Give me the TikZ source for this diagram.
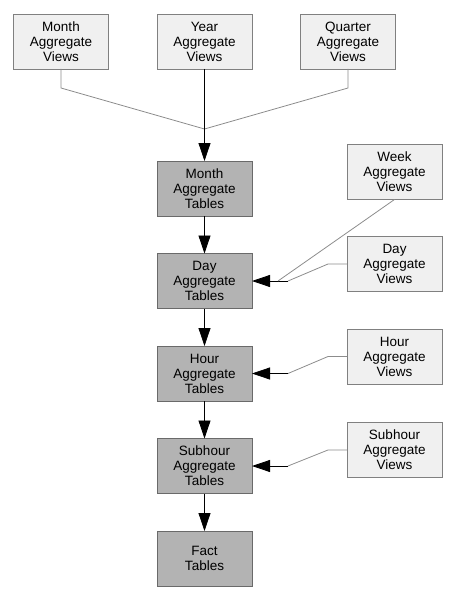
\documentclass[tikz,border=0pt]{standalone}
\usepackage{fontspec}
\setmainfont{Liberation Sans}
\usepackage{tikz}
\usetikzlibrary{arrows.meta, positioning, calc}
\definecolor{viewfill}{RGB}{240,240,240}
\definecolor{viewline}{RGB}{128,128,128}
\definecolor{tablefill}{RGB}{179,179,179}
\definecolor{tableline}{RGB}{106,106,106}
\definecolor{linkgray}{RGB}{140,140,140}

\begin{document}
\begin{tikzpicture}[x=1pt, y=1pt,
    view/.style={rectangle, draw=viewline, fill=viewfill, line width=0.9pt, outer sep=0pt,
                 minimum width=95pt, minimum height=55pt, inner sep=0pt, align=center,
                 font=\fontsize{13.5}{15}\selectfont},
    tbl/.style={view, draw=tableline, fill=tablefill},
    link/.style={linkgray, line width=0.8pt},
    flow/.style={-{Triangle[length=18pt, width=12pt, color=black]}, line width=0.8pt, black}]

    \useasboundingbox (0,0) rectangle (457,-599);

    % views at the top
    \node[view] at (204.5,-41.5) (yviews) {Year\\Aggregate\\Views};
    \node[view, left=48.5pt of yviews] (mviews) {Month\\Aggregate\\Views};
    \node[view, right=48.5pt of yviews] (qviews) {Quarter\\Aggregate\\Views};

    % chain of tables
    \node[tbl, below=92pt of yviews] (mtables) {Month\\Aggregate\\Tables};
    \node[tbl, below=37.5pt of mtables] (dtables) {Day\\Aggregate\\Tables};
    \node[tbl, below=37.5pt of dtables] (htables) {Hour\\Aggregate\\Tables};
    \node[tbl, below=37.5pt of htables] (stables) {Subhour\\Aggregate\\Tables};
    \node[tbl, below=37.5pt of stables] (ftables) {Fact\\Tables};

    % views on the right
    \node[view, right=95pt of dtables, yshift=17pt] (dviews) {Day\\Aggregate\\Views};
    \node[view, above=37pt of dviews] (wviews) {Week\\Aggregate\\Views};
    \node[view, right=95pt of htables, yshift=17pt] (hviews) {Hour\\Aggregate\\Views};
    \node[view, right=95pt of stables, yshift=16pt] (sviews) {Subhour\\Aggregate\\Views};

    \coordinate (topjoin) at ($(mtables.north)+(0,32)$);
    \draw[link] (mviews.south) -- ++(0,-19) -- (topjoin);
    \draw[link] (qviews.south) -- ++(0,-19) -- (topjoin);
    \draw[flow] (yviews) -- (mtables);

    \foreach \a/\b in {mtables/dtables, dtables/htables, htables/stables, stables/ftables}
        \draw[flow] (\a) -- (\b);

    % side views into the tables
    \foreach \v/\t in {dviews/dtables, hviews/htables, sviews/stables} {
        \coordinate (\t join) at ($(\t.east)+(36,0)$);
        \draw[link] (\v.west) -- ++(-19,0) -- (\t join);
        \draw[flow] (\t join) -- (\t.east);
    }
    \draw[link] (wviews.south) -- ($(dtables.east)+(26,0)$);
\end{tikzpicture}
\end{document}
